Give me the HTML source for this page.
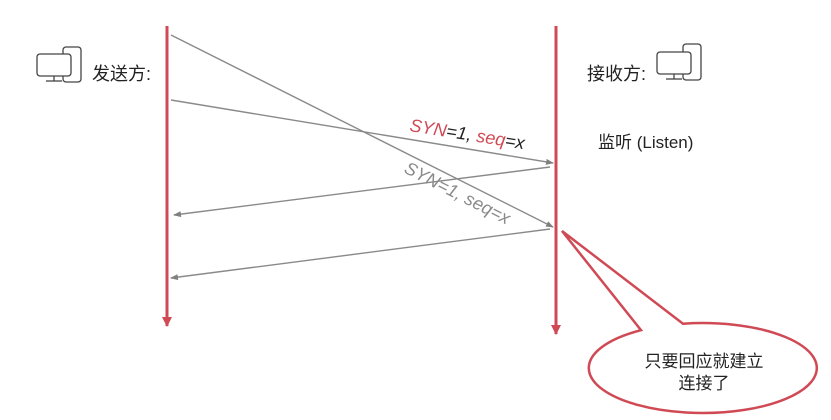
<!DOCTYPE html>
<html><head><meta charset="utf-8"><style>
html,body{margin:0;padding:0;background:#fff;}
svg{display:block;font-family:"Liberation Sans","Noto Sans CJK SC",sans-serif;}
</style></head><body>
<svg width="831" height="420" viewBox="0 0 831 420">
<defs>
<marker id="ga" markerWidth="8" markerHeight="6" refX="7" refY="3" orient="auto" markerUnits="userSpaceOnUse"><path d="M0,0 L8,3 L0,6 Z" fill="#808080"/></marker>
<marker id="ra" markerWidth="10" markerHeight="10" refX="5" refY="9" orient="0" markerUnits="userSpaceOnUse"><path d="M0,0 L5,10 L10,0 Z" fill="#d04a55"/></marker>
</defs>
<g fill="none" stroke="#444" stroke-width="1.3">
<rect x="63" y="47" width="18" height="35" rx="3"/>
<rect x="37" y="54" width="34" height="22" rx="3" fill="#fff"/>
<line x1="46" y1="81" x2="62" y2="81"/><line x1="54" y1="76" x2="54" y2="81"/>
</g>
<text x="92" y="80" font-size="18" fill="#222">发送方:</text>
<g fill="none" stroke="#444" stroke-width="1.3">
<rect x="683" y="44" width="18" height="36" rx="3"/>
<rect x="657" y="52" width="34" height="22" rx="3" fill="#fff"/>
<line x1="666" y1="79" x2="682" y2="79"/><line x1="674" y1="74" x2="674" y2="79"/>
</g>
<text x="587" y="80" font-size="18" fill="#222">接收方:</text>
<text x="598" y="148" font-size="17" fill="#222">监听 (Listen)</text>
<line x1="167" y1="26" x2="167" y2="326" stroke="#d04a55" stroke-width="3" marker-end="url(#ra)"/>
<line x1="556" y1="26" x2="556" y2="334" stroke="#d04a55" stroke-width="3" marker-end="url(#ra)"/>
<g stroke="#8a8a8a" stroke-width="1.4" fill="none">
<line x1="171" y1="35" x2="553" y2="227" marker-end="url(#ga)"/>
<line x1="171" y1="100" x2="553" y2="163" marker-end="url(#ga)"/>
<line x1="550" y1="167" x2="174" y2="215" marker-end="url(#ga)"/>
<line x1="550" y1="229" x2="171" y2="278" marker-end="url(#ga)"/>
</g>
<text transform="translate(409,131) rotate(9)" font-size="18" font-style="italic"><tspan fill="#d04a55">SYN</tspan><tspan fill="#222">=1, </tspan><tspan fill="#d04a55">seq</tspan><tspan fill="#222">=x</tspan></text>
<text transform="translate(403,172) rotate(27)" font-size="18" font-style="italic" fill="#8a8a8a">SYN=1, seq=x</text>
<path d="M641,330.2 A114,45 0 1 0 683,323.7 L562,231 Z" fill="#fff" stroke="#d04a55" stroke-width="2.5" stroke-linejoin="miter"/>
<text x="704" y="367" font-size="17" fill="#222" text-anchor="middle">只要回应就建立</text>
<text x="704" y="389" font-size="17" fill="#222" text-anchor="middle">连接了</text>
</svg>
</body></html>
